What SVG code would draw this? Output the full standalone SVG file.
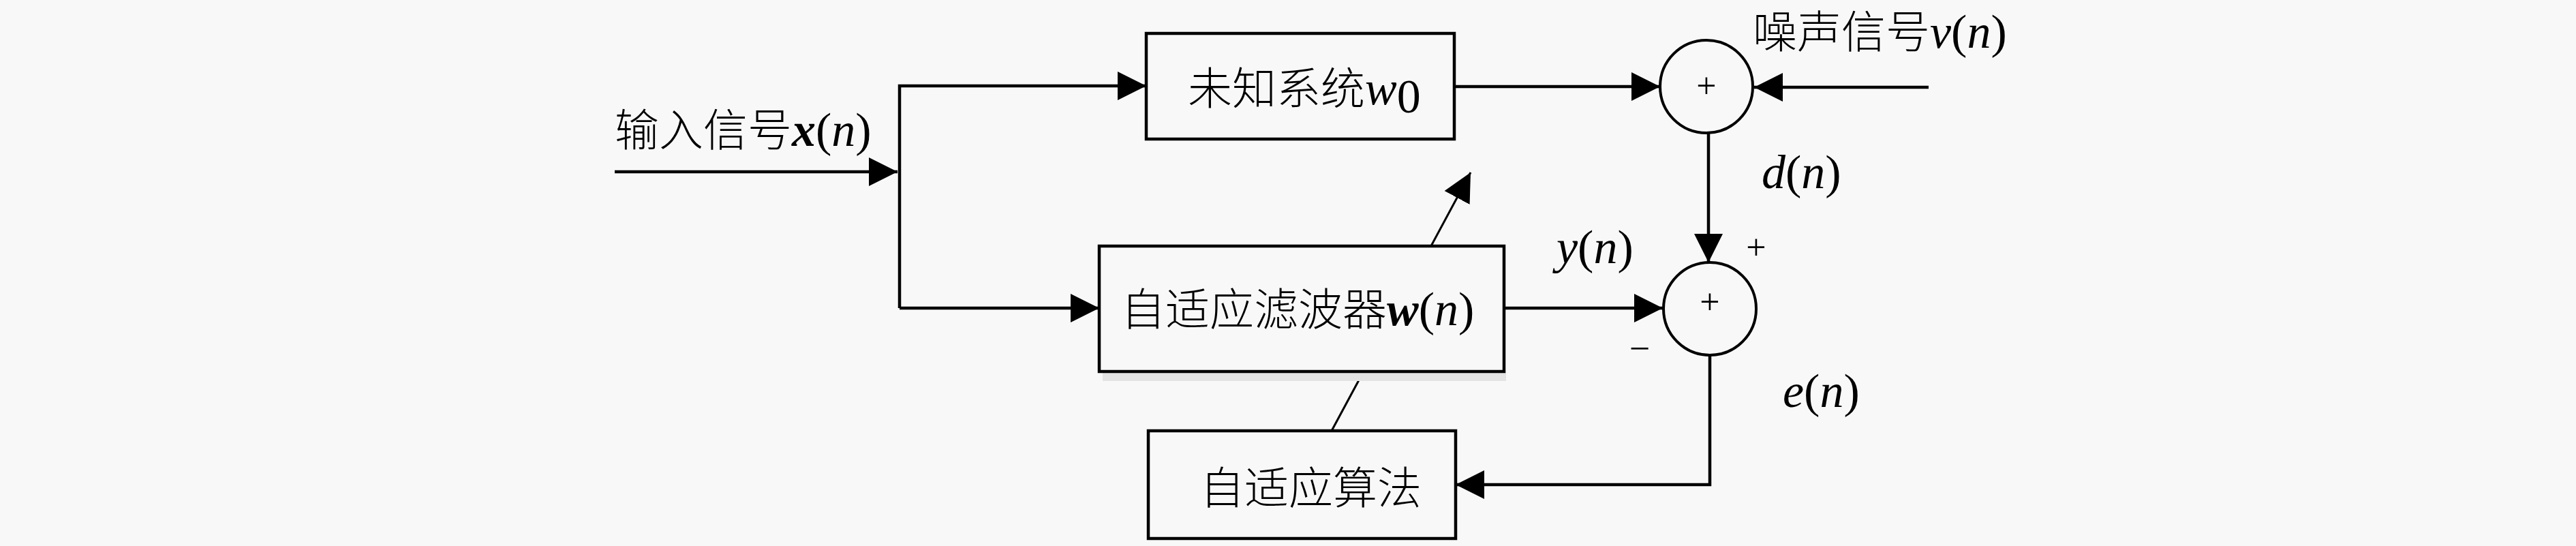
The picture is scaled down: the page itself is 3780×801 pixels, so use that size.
<svg xmlns="http://www.w3.org/2000/svg" width="3780" height="801" viewBox="0 0 3780 801">
<style>
.box{fill:#f8f8f8;stroke:#000;stroke-width:4.5}
.sum{fill:#f8f8f8;stroke:#000;stroke-width:4}
.ln{fill:none;stroke:#000;stroke-width:4.5}
.thin{fill:none;stroke:#000;stroke-width:3}
.cjk{font-family:"Noto Sans CJK SC","Liberation Serif",sans-serif;font-size:65px;font-weight:300;fill:#000}
.m{font-family:"Liberation Serif",serif;font-size:70px;fill:#000}
.it{font-style:italic}
.bi{font-style:italic;font-weight:bold}
.sym{font-family:"Liberation Serif",serif;fill:#000;text-anchor:middle}
</style>
<defs>
<marker id="ah" viewBox="0 0 42 42" refX="42" refY="21" markerWidth="42" markerHeight="42" markerUnits="userSpaceOnUse" orient="auto">
<path d="M0,0 L42,21 L0,42 Z" fill="#000"/>
</marker>
</defs>
<rect x="0" y="0" width="3780" height="801" fill="#f8f8f8"/>
<g id="connectors">
<path class="ln" d="M902,252 L1317,252" marker-end="url(#ah)"/>
<path class="ln" d="M1320,452 L1320,126 L1682,126" marker-end="url(#ah)"/>
<path class="ln" d="M1320,452 L1613,452" marker-end="url(#ah)"/>
<path class="ln" d="M2134,127 L2436,127" marker-end="url(#ah)"/>
<path class="ln" d="M2830,128 L2574,128" marker-end="url(#ah)"/>
<path class="ln" d="M2507,195 L2507,385" marker-end="url(#ah)"/>
<path class="ln" d="M2207,452 L2440,452" marker-end="url(#ah)"/>
<path class="ln" d="M2509,521 L2509,711 L2136,711" marker-end="url(#ah)"/>
<path class="thin" d="M1954,632 L2158,253" marker-end="url(#ah)"/>
</g>
<g id="unknown-system">
<rect class="box" x="1682" y="49" width="452" height="155"/>
<text x="1743" y="153"><tspan class="cjk">未知系统</tspan><tspan class="m it">w</tspan><tspan class="m" font-size="40" dy="12">0</tspan></text>
</g>
<g id="adaptive-filter">
<rect x="1618" y="545" width="592" height="14" fill="#e4e4e4"/>
<rect class="box" x="1613" y="361" width="594" height="184"/>
<text x="1645" y="477"><tspan class="cjk">自适应滤波器</tspan><tspan class="m bi">w</tspan><tspan class="m">(</tspan><tspan class="m it">n</tspan><tspan class="m">)</tspan></text>
</g>
<g id="adaptive-algorithm">
<rect class="box" x="1685" y="632" width="451" height="158"/>
<text class="cjk" x="1761" y="739">自适应算法</text>
</g>
<g id="sum1">
<circle class="sum" cx="2504" cy="127" r="68"/>
<text class="sym" x="2504" y="143" font-size="52">+</text>
</g>
<g id="sum2">
<circle class="sum" cx="2509" cy="453" r="68"/>
<text class="sym" x="2509" y="460" font-size="52">+</text>
</g>
<g id="labels">
<text x="902" y="214"><tspan class="cjk">输入信号</tspan><tspan class="m bi">x</tspan><tspan class="m">(</tspan><tspan class="m it">n</tspan><tspan class="m">)</tspan></text>
<text x="2572" y="70"><tspan class="cjk">噪声信号</tspan><tspan class="m it">v</tspan><tspan class="m">(</tspan><tspan class="m it">n</tspan><tspan class="m">)</tspan></text>
<text x="2585" y="276"><tspan class="m it">d</tspan><tspan class="m">(</tspan><tspan class="m it">n</tspan><tspan class="m">)</tspan></text>
<text x="2284" y="386"><tspan class="m it">y</tspan><tspan class="m">(</tspan><tspan class="m it">n</tspan><tspan class="m">)</tspan></text>
<text x="2616" y="597"><tspan class="m it">e</tspan><tspan class="m">(</tspan><tspan class="m it">n</tspan><tspan class="m">)</tspan></text>
<text class="sym" x="2577" y="380" font-size="52">+</text>
<text class="sym" x="2406" y="529" font-size="54">−</text>
</g>
</svg>
